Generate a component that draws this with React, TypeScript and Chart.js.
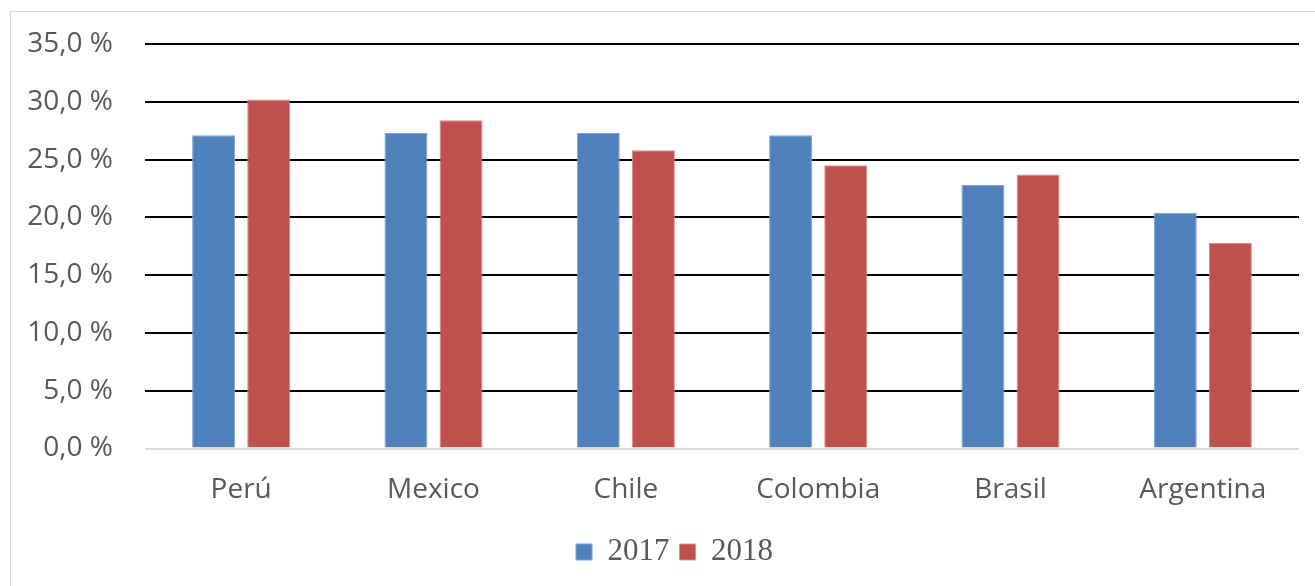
import React, { useEffect, useRef } from "react";
import { Chart, registerables } from "chart.js";

Chart.register(...registerables);

const categories = ["Perú", "Mexico", "Chile", "Colombia", "Brasil", "Argentina"];
const series2017 = [27.1, 27.3, 27.3, 27.1, 22.8, 20.4];
const series2018 = [30.2, 28.4, 25.8, 24.5, 23.7, 17.8];
const seriesLabels = ["2017", "2018"];
const yMin = 0;
const yMax = 35;
const yStep = 5;

const shiftLegend = {
  id: "shiftLegend",
  afterLayout(chart: any) {
    if (chart.legend) {
      chart.legend.left += 50;
    }
  },
};

export default function App() {
  const canvasRef = useRef<HTMLCanvasElement | null>(null);

  useEffect(() => {
    document.body.style.margin = "0";
    const canvas = canvasRef.current;
    if (!canvas) return;
    const chart = new Chart(canvas, {
      type: "bar",
      data: {
        labels: categories,
        datasets: [
          {
            label: seriesLabels[0],
            data: series2017,
            backgroundColor: "#4F81BD",
            borderColor: "#7FA3D3",
            borderWidth: 1,
            categoryPercentage: 0.573,
            barPercentage: 0.78,
          },
          {
            label: seriesLabels[1],
            data: series2018,
            backgroundColor: "#C0504D",
            borderColor: "#D98B89",
            borderWidth: 1,
            categoryPercentage: 0.573,
            barPercentage: 0.78,
          },
        ],
      },
      plugins: [shiftLegend],
      options: {
        responsive: false,
        animation: false,
        maintainAspectRatio: false,
        layout: { padding: { left: 0, right: 16, top: 44, bottom: 8.5 } },
        plugins: {
          tooltip: { enabled: false },
          legend: {
            display: true,
            position: "bottom",
            labels: {
              boxWidth: 16,
              boxHeight: 16,
              padding: 10,
              color: "#595959",
              font: { family: "'Liberation Serif', 'Times New Roman', serif", size: 31 },
            },
          },
        },
        scales: {
          x: {
            grid: { display: false, drawTicks: false },
            border: { display: false },
            ticks: {
              color: "#595959",
              padding: 25,
              font: { family: "'Open Sans', sans-serif", size: 28 },
            },
            afterFit: (scale: any) => {
              scale.height = 78;
            },
          },
          y: {
            min: yMin,
            max: yMax,
            border: { display: false },
            grid: {
              drawTicks: false,
              lineWidth: 2,
              color: (ctx: any) => (ctx.tick && ctx.tick.value === 0 ? "#D9D9D9" : "#000000"),
            },
            ticks: {
              stepSize: yStep,
              color: "#595959",
              padding: 32,
              font: { family: "'Open Sans', sans-serif", size: 28, lineHeight: 0.8 },
              callback: (v: any) => Number(v).toFixed(1).replace(".", ",") + " %",
            },
            afterFit: (scale: any) => {
              scale.width = 145;
            },
          },
        },
      },
    });
    return () => chart.destroy();
  }, []);

  return (
    <div style={{ position: "relative", width: 1315, height: 586, background: "#fff", overflow: "hidden" }}>
      <div
        style={{
          position: "absolute",
          left: 10,
          top: 11,
          width: 1400,
          height: 700,
          borderLeft: "1px solid #D9D9D9",
          borderTop: "1px solid #D9D9D9",
        }}
      />
      <canvas ref={canvasRef} width={1315} height={586} style={{ position: "absolute", left: 0, top: 0 }} />
    </div>
  );
}
